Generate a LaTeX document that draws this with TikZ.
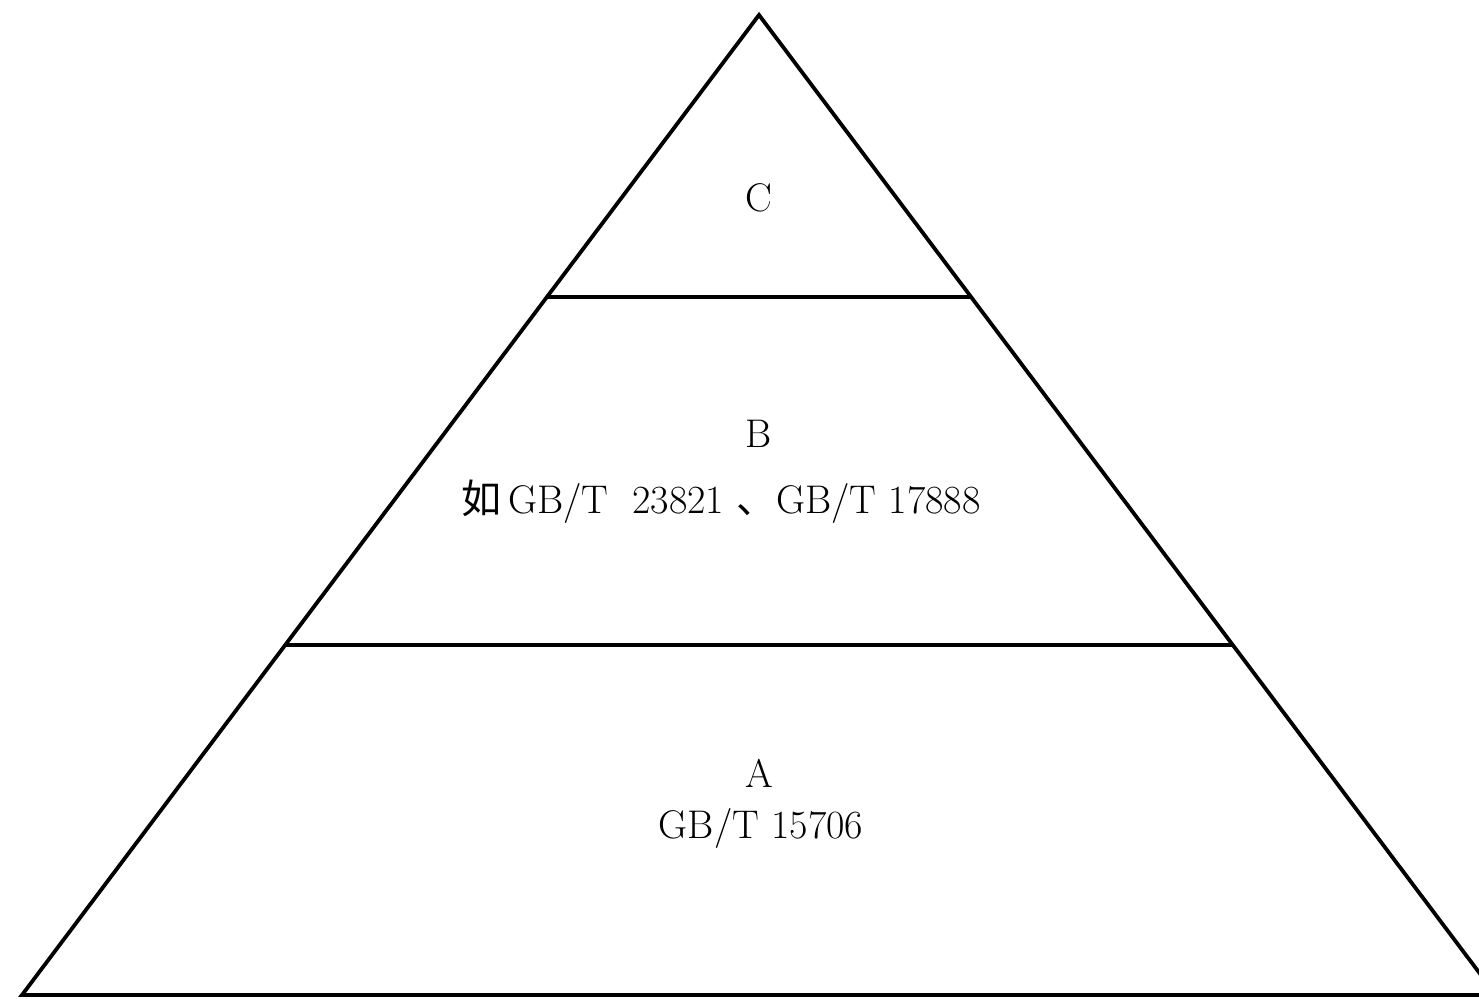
\documentclass[tikz,border=0pt]{standalone}
\usepackage{fontspec}
\newfontfamily\cjk{Noto Sans CJK SC}
\begin{document}
\begin{tikzpicture}[x=0.5pt,y=-0.5pt,
  edge/.style={line width=1.9pt,line join=miter,black},
  lbl/.style={anchor=base,inner sep=0pt,font=\fontsize{20}{23}\selectfont}]
\useasboundingbox (0,0) rectangle (1479,999);
\clip (0,0) rectangle (1479,999);
\coordinate (apex) at (759,15);
\coordinate (bl) at (22,995);
\coordinate (br) at (1496,995);
\draw[edge] (bl) -- (apex) -- (br) -- cycle;
\draw[edge] (547,297) -- (971,297);
\draw[edge] (285,645) -- (1233,645);
\node[lbl] (c) at (759,212) {C};
\node[lbl] (b) at (759,448) {B};
\node[lbl] (bstd) at (721,514) {{\cjk 如}\,GB/T\ \ 23821\ {\cjk 、}GB/T 17888};
\node[lbl] (a) at (759,788) {A};
\node[lbl] (astd) at (761,839) {GB/T 15706};
\end{tikzpicture}
\end{document}
